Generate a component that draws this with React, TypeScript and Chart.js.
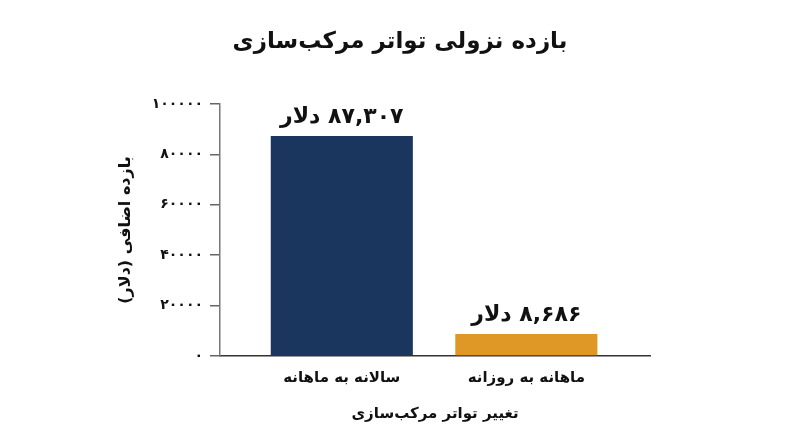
import { useEffect, useRef } from 'react';
import Chart from 'chart.js/auto';

const title = 'بازده نزولی تواتر مرکب‌سازی';
const yTitle = 'بازده اضافی (دلار)';
const xTitle = 'تغییر تواتر مرکب‌سازی';
const categories = ['سالانه به ماهانه', 'ماهانه به روزانه'];
const gains = [87307, 8686];
const barColors = ['#1b365e', '#df9726'];
const yTicks = [0, 20000, 40000, 60000, 80000, 100000];
const unit = 'دلار';

const FONT = '"DejaVu Sans", sans-serif';

const toFa = (s: string) => s.replace(/\d/g, (d) => '۰۱۲۳۴۵۶۷۸۹'[+d]);
const money = (v: number) => toFa(v.toLocaleString('en-US')) + ' ' + unit;

const labelsPlugin = {
    id: 'valueLabels',
    afterDraw(chart: any) {
        const ctx = chart.ctx;
        ctx.save();
        ctx.direction = 'rtl';
        ctx.fillStyle = '#111';
        ctx.textAlign = 'center';
        ctx.textBaseline = 'middle';
        // title, centred on the canvas
        ctx.font = `bold 23px ${FONT}`;
        ctx.fillText(title, chart.width / 2, 42);
        // value over each bar
        ctx.font = `bold 22px ${FONT}`;
        chart.getDatasetMeta(0).data.forEach((bar: any, i: number) => {
            ctx.fillText(money(gains[i]), bar.x, bar.y - 19);
        });
        ctx.restore();
    },
};

export default function App() {
    const canvasRef = useRef(null);

    useEffect(() => {
        document.body.style.margin = '0';
        // @ts-expect-error
        const chart = new Chart(canvasRef.current, {
            type: 'bar',
            data: {
                datasets: [
                    {
                        data: gains.map((v, i) => ({ x: i, y: v })),
                        backgroundColor: barColors,
                        barPercentage: 0.77,
                        categoryPercentage: 1,
                    },
                ],
            },
            options: {
                responsive: true,
                maintainAspectRatio: false,
                animation: false,
                layout: { padding: { top: 104, right: 150, left: 0, bottom: 0 } },
                plugins: {
                    legend: { display: false },
                    tooltip: { enabled: false },
                },
                scales: {
                    x: {
                        type: 'linear',
                        offset: false,
                        min: -0.66,
                        max: 1.67,
                        afterBuildTicks: (axis: any) => {
                            axis.ticks = categories.map((_, i) => ({ value: i }));
                        },
                        afterFit: (axis: any) => {
                            axis.height = 91;
                        },
                        grid: { display: false, drawTicks: false, offset: false },
                        border: { display: true, color: '#333', width: 1.5 },
                        ticks: {
                            color: '#111',
                            padding: 13,
                            maxRotation: 0,
                            font: { family: FONT, size: 15, weight: 'bold' },
                            callback: (v: any) => categories[v],
                        },
                        title: {
                            display: true,
                            text: xTitle,
                            color: '#111',
                            font: { family: FONT, size: 15, weight: 'bold' },
                            padding: { top: 0, bottom: 24 },
                        },
                    },
                    y: {
                        min: 0,
                        max: 100000,
                        afterBuildTicks: (axis: any) => {
                            axis.ticks = yTicks.map((v) => ({ value: v }));
                        },
                        afterFit: (axis: any) => {
                            axis.width = 220;
                        },
                        grid: { drawOnChartArea: false, drawTicks: true, tickLength: 10, color: '#666', lineWidth: 1.5 },
                        border: { display: true, color: '#777', width: 1.5 },
                        ticks: {
                            color: '#111',
                            padding: 7,
                            font: { family: FONT, size: 14, weight: 'bold' },
                            callback: (v: any) => toFa(String(v)),
                        },
                        title: {
                            display: true,
                            text: yTitle,
                            color: '#111',
                            font: { family: FONT, size: 16, weight: 'bold' },
                            padding: { top: 116, bottom: 0 },
                        },
                    },
                },
            },
            plugins: [labelsPlugin],
        });
        return () => chart.destroy();
    }, []);

    return (
        <div style={{ position: 'relative', width: '800px', height: '447px', background: '#fff' }}>
            <canvas ref={canvasRef} />
        </div>
    );
}
